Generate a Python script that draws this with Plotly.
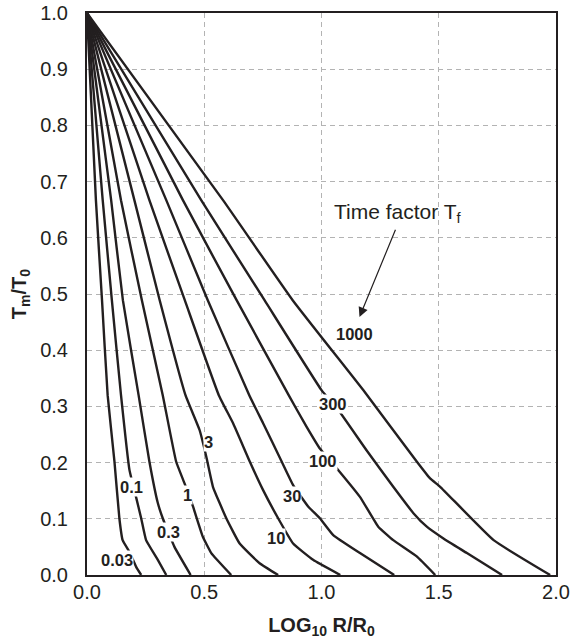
import plotly.graph_objects as go

# Time factor curves: LOG10 R/R0 (x) versus Tm/T0 (y)
tf_labels = ["0.03", "0.1", "0.3", "1", "3", "10", "30", "100", "300", "1000"]

x_003 = [0.0, 0.038, 0.064, 0.088, 0.117, 0.138, 0.152, 0.181, 0.209, 0.231]
y_003 = [1.0, 0.667, 0.489, 0.320, 0.202, 0.101, 0.062, 0.041, 0.015, 0.0]

x_01 = [0.0, 0.067, 0.106, 0.145, 0.181, 0.209, 0.231, 0.252, 0.302, 0.338]
y_01 = [1.0, 0.667, 0.489, 0.320, 0.187, 0.139, 0.101, 0.062, 0.027, 0.0]

x_03 = [0.0, 0.103, 0.153, 0.220, 0.266, 0.302, 0.323, 0.373, 0.442]
y_03 = [1.0, 0.667, 0.489, 0.320, 0.202, 0.128, 0.101, 0.050, 0.0]

x_1 = [0.0, 0.145, 0.234, 0.323, 0.380, 0.416, 0.452, 0.494, 0.530, 0.615]
y_1 = [1.0, 0.667, 0.489, 0.320, 0.202, 0.163, 0.122, 0.068, 0.039, 0.0]

x_3 = [0.0, 0.202, 0.310, 0.420, 0.480, 0.509, 0.537, 0.594, 0.651, 0.736, 0.815]
y_3 = [1.0, 0.667, 0.489, 0.320, 0.258, 0.210, 0.157, 0.101, 0.056, 0.021, 0.0]

x_10 = [0.0, 0.266, 0.417, 0.562, 0.623, 0.694, 0.751, 0.815, 0.879, 0.964, 1.080]
y_10 = [1.0, 0.667, 0.489, 0.320, 0.270, 0.202, 0.151, 0.101, 0.056, 0.027, 0.0]

x_30 = [0.0, 0.338, 0.515, 0.692, 0.751, 0.830, 0.879, 0.943, 0.993, 1.050, 1.164, 1.310]
y_30 = [1.0, 0.667, 0.489, 0.320, 0.270, 0.202, 0.160, 0.122, 0.101, 0.071, 0.039, 0.0]

x_100 = [0.0, 0.409, 0.638, 0.860, 0.936, 0.993, 1.071, 1.164, 1.242, 1.306, 1.406, 1.485]
y_100 = [1.0, 0.667, 0.489, 0.320, 0.264, 0.225, 0.187, 0.139, 0.086, 0.062, 0.033, 0.0]

x_300 = [0.0, 0.487, 0.757, 1.000, 1.071, 1.192, 1.306, 1.392, 1.449, 1.520, 1.620, 1.770]
y_300 = [1.0, 0.667, 0.489, 0.329, 0.294, 0.222, 0.157, 0.110, 0.086, 0.065, 0.039, 0.0]

x_1000 = [0.0, 0.580, 0.877, 1.178, 1.406, 1.463, 1.506, 1.734, 1.975]
y_1000 = [1.0, 0.667, 0.489, 0.329, 0.202, 0.172, 0.157, 0.062, 0.0]

curves_x = [x_003, x_01, x_03, x_1, x_3, x_10, x_30, x_100, x_300, x_1000]
curves_y = [y_003, y_01, y_03, y_1, y_3, y_10, y_30, y_100, y_300, y_1000]

# label anchor positions (data units)
label_x = [0.127, 0.191, 0.348, 0.430, 0.517, 0.808, 0.876, 1.006, 1.050, 1.141]
label_y = [0.027, 0.157, 0.077, 0.142, 0.237, 0.066, 0.140, 0.203, 0.305, 0.429]

x_ticks = [0.0, 0.5, 1.0, 1.5, 2.0]
y_ticks = [0.0, 0.1, 0.2, 0.3, 0.4, 0.5, 0.6, 0.7, 0.8, 0.9, 1.0]

FONT = "Liberation Sans, Arial, Helvetica, sans-serif"
INK = "#231f20"

fig = go.Figure()
for name, xs, ys in zip(tf_labels, curves_x, curves_y):
    fig.add_trace(go.Scatter(x=xs, y=ys, mode="lines", name=name,
                             line=dict(color=INK, width=2.4, shape="spline", smoothing=0.35),
                             showlegend=False, hoverinfo="skip"))

annotations = []
for t, lx, ly in zip(tf_labels, label_x, label_y):
    annotations.append(dict(x=lx, y=ly, xref="x", yref="y", text="<b>" + t + "</b>",
                            showarrow=False, bgcolor="white", borderpad=0,
                            font=dict(family=FONT, size=16.5, color=INK)))

annotations.append(dict(x=1.043, y=0.644, xref="x", yref="y", xanchor="left",
                        text="Time factor T<sub>f</sub>", showarrow=False,
                        font=dict(family=FONT, size=21, color=INK)))
annotations.append(dict(x=1.162, y=0.459, xref="x", yref="y", ax=1.318, ay=0.617,
                        axref="x", ayref="y", text="", showarrow=True,
                        arrowhead=2, arrowsize=1.6, arrowwidth=1.2, arrowcolor=INK))

fig.update_layout(
    width=573, height=639,
    margin=dict(l=87, r=17, t=13, b=64),
    plot_bgcolor="white", paper_bgcolor="white",
    font=dict(family=FONT, color=INK),
    annotations=annotations,
    xaxis=dict(range=[0, 2.0], tickvals=x_ticks, tickformat=".1f", automargin=False,
               showgrid=True, gridcolor="#b3b3b3", gridwidth=1, griddash="5px,4px",
               showline=True, linecolor=INK, linewidth=2, mirror=True,
               ticks="", ticklabelstandoff=-2, zeroline=False, ticklabeloverflow="allow",
               tickfont=dict(family=FONT, size=20, color=INK),
               title=dict(text="<b>LOG<sub>10</sub> R/R<sub>0</sub></b>", standoff=16,
                          font=dict(family=FONT, size=20, color=INK))),
    yaxis=dict(range=[0, 1.0], tickvals=y_ticks, tickformat=".1f", automargin=False,
               showgrid=True, gridcolor="#b3b3b3", gridwidth=1, griddash="5px,4px",
               showline=True, linecolor=INK, linewidth=2, mirror=True,
               ticks="", ticklabelstandoff=13, zeroline=False, ticklabeloverflow="allow",
               tickfont=dict(family=FONT, size=20, color=INK),
               title=dict(text="<b>T<sub>m</sub>/T<sub>0</sub></b>", standoff=8,
                          font=dict(family=FONT, size=20, color=INK))),
)

fig.write_html("out.html", config={"displayModeBar": False},
               post_script="document.body.style.margin='0';")
